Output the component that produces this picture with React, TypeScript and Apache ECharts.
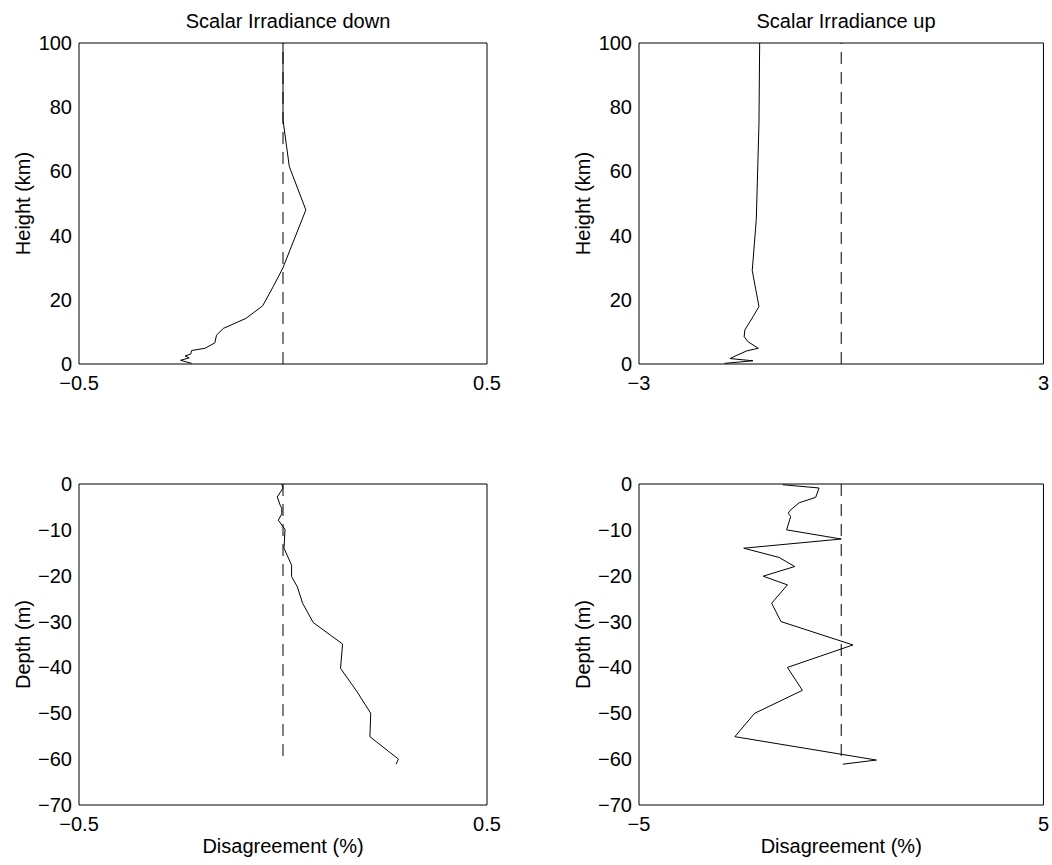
import React, { useEffect, useRef } from 'react';
import * as echarts from 'echarts';

// Top-left: Scalar Irradiance down (height km vs disagreement %)
const downHeightKm = [100, 76, 61.5, 48, 30, 24.1, 18.1, 14.2, 11.1, 9.0, 6.6, 4.9, 4.2, 3.1, 2.5, 1.9, 1.15, 0.2];
const downDiffAtm = [0, 0, 0.0155, 0.056, 0, -0.024, -0.05, -0.091, -0.146, -0.163, -0.167, -0.191, -0.224, -0.226, -0.24, -0.23, -0.251, -0.224];

// Top-right: Scalar Irradiance up (height km)
const upHeightKm = [100, 75, 45, 29.1, 17.9, 14.7, 10.6, 8.5, 6.9, 4.9, 4.1, 2.6, 1.7, 1.0, 0.2];
const upDiffAtm = [-1.21, -1.22, -1.26, -1.32, -1.22, -1.31, -1.43, -1.44, -1.38, -1.23, -1.4, -1.56, -1.65, -1.31, -1.73];

// Bottom-left: Scalar Irradiance down (depth m)
const downDepthM = [0, -0.9, -2.8, -4.6, -5.3, -6.5, -7.9, -9.9, -14.0, -17.7, -20.2, -22.4, -26.0, -30.2, -34.9, -40.2, -45.1, -50.0, -55.1, -60.0, -61.1];
const downDiffOcean = [-0.003, 0, -0.014, -0.007, -0.003, -0.003, -0.0115, 0.005, 0.0025, 0.021, 0.021, 0.035, 0.048, 0.074, 0.146, 0.141, 0.18, 0.215, 0.213, 0.283, 0.277];

// Bottom-right: Scalar Irradiance up (depth m)
const upDepthM = [-0.15, -0.87, -2.9, -4.1, -5.8, -6.4, -7.1, -10.0, -12.0, -14.0, -16.0, -18.0, -20.1, -22.0, -26.0, -30.0, -35.1, -40.0, -45.0, -50.0, -55.1, -60.2, -61.1];
const upDiffOcean = [-1.45, -0.55, -0.63, -1.04, -1.27, -1.31, -1.25, -1.35, 0.0, -2.41, -1.54, -1.15, -1.93, -1.33, -1.72, -1.49, 0.29, -1.33, -0.96, -2.14, -2.63, 0.87, 0.04];

// Zero reference (dashed) extents
const atmZeroLine = [0, 100];
const oceanZeroLine = [0, -60];

// Axis ranges / tick labels
const titles = ['Scalar Irradiance down', 'Scalar Irradiance up'];
const xLimits = [[-0.5, 0.5], [-3, 3], [-0.5, 0.5], [-5, 5]];
const yLimitsAtm = [0, 100];
const yLimitsOcean = [-70, 0];
const yStep = [20, 20, 10, 10];
const yNames = ['Height (km)', 'Height (km)', 'Depth (m)', 'Depth (m)'];
const xName = 'Disagreement (%)';

const FONT = 'Liberation Sans, Arial, Helvetica, sans-serif';
const minus = (v: number) => String(v).replace('-', '\u2212');

export default function App() {
  const ref = useRef<HTMLDivElement>(null);
  useEffect(() => {
    document.body.style.margin = '0';
    const chart = echarts.init(ref.current!, null, { renderer: 'svg' });

    const grids = [
      { left: 79, top: 43, width: 408, height: 321 },
      { left: 639, top: 43, width: 405, height: 321 },
      { left: 79, top: 484, width: 408, height: 321 },
      { left: 639, top: 484, width: 405, height: 321 },
    ].map((g) => ({ ...g, show: true, borderColor: '#000', borderWidth: 1, backgroundColor: 'transparent' }));

    const curves = [
      { xs: downDiffAtm, ys: downHeightKm, zero: atmZeroLine },
      { xs: upDiffAtm, ys: upHeightKm, zero: atmZeroLine },
      { xs: downDiffOcean, ys: downDepthM, zero: oceanZeroLine },
      { xs: upDiffOcean, ys: upDepthM, zero: oceanZeroLine },
    ];

    const xAxes = xLimits.map((lim, i) => ({
      type: 'value',
      gridIndex: i,
      min: lim[0],
      max: lim[1],
      axisLine: { show: false },
      axisTick: { show: false },
      splitLine: { show: false },
      axisLabel: {
        customValues: [lim[0], lim[1]],
        formatter: (v: number) => minus(v),
        color: '#000',
        fontSize: 20,
        fontFamily: FONT,
        margin: 9,
      },
      name: i >= 2 ? xName : '',
      nameLocation: 'middle',
      nameGap: 31,
      nameTextStyle: { color: '#000', fontSize: 20, fontFamily: FONT },
    }));

    const yAxes = [0, 1, 2, 3].map((i) => {
      const lim = i < 2 ? yLimitsAtm : yLimitsOcean;
      return {
        type: 'value',
        gridIndex: i,
        min: lim[0],
        max: lim[1],
        interval: yStep[i],
        position: 'left',
        axisLine: { show: false },
        axisTick: { show: false },
        splitLine: { show: false },
        axisLabel: {
          formatter: (v: number) => minus(v),
          color: '#000',
          fontSize: 20,
          fontFamily: FONT,
          margin: 7,
        },
        name: yNames[i],
        nameLocation: 'middle',
        nameGap: 46,
        nameTextStyle: { color: '#000', fontSize: 20, fontFamily: FONT },
      };
    });

    const series: any[] = [];
    curves.forEach((c, i) => {
      series.push({
        type: 'line',
        xAxisIndex: i,
        yAxisIndex: i,
        data: c.xs.map((x, k) => [x, c.ys[k]]),
        showSymbol: false,
        lineStyle: { color: '#000', width: 1 },
        silent: true,
      });
      series.push({
        type: 'line',
        xAxisIndex: i,
        yAxisIndex: i,
        data: c.zero.map((y) => [0, y]),
        showSymbol: false,
        lineStyle: { color: '#000', width: 1, type: [12, 8] },
        silent: true,
      });
    });

    chart.setOption({
      animation: false,
      backgroundColor: '#fff',
      textStyle: { fontFamily: FONT },
      title: [
        { text: titles[0], left: 283, top: 6, textAlign: 'center', textStyle: { fontSize: 20, fontWeight: 'normal', color: '#000', fontFamily: FONT } },
        { text: titles[1], left: 841, top: 6, textAlign: 'center', textStyle: { fontSize: 20, fontWeight: 'normal', color: '#000', fontFamily: FONT } },
      ],
      grid: grids,
      xAxis: xAxes,
      yAxis: yAxes,
      series,
    });
    return () => chart.dispose();
  }, []);
  return <div ref={ref} style={{ width: 1052, height: 865 }} />;
}
